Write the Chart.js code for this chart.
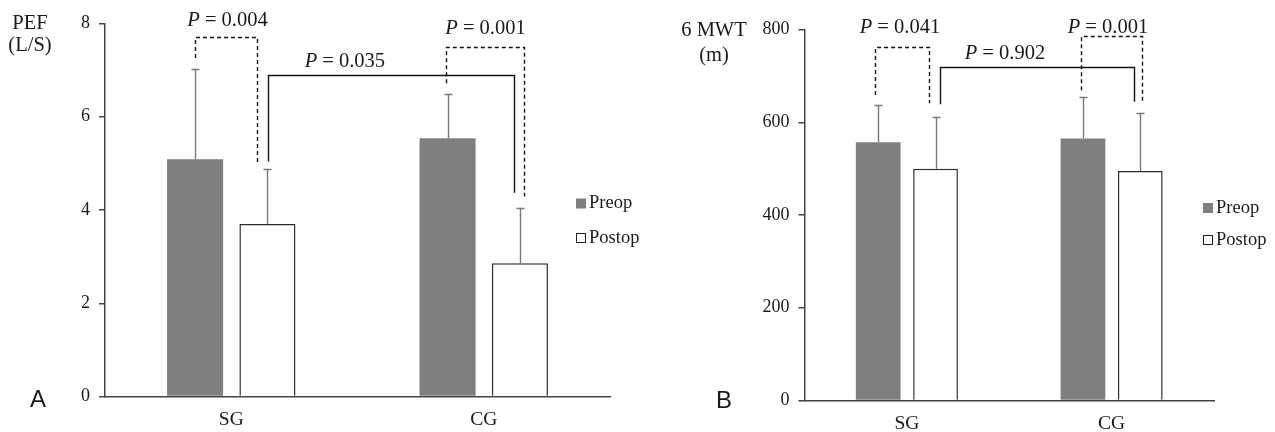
<!DOCTYPE html>
<html>
<head>
<meta charset="utf-8">
<script src="https://cdn.jsdelivr.net/npm/chart.js@4.4.1/dist/chart.umd.min.js"></script>
<style>
  html, body { margin: 0; padding: 0; background: #fff; }
  #wrap { position: relative; width: 1275px; height: 432px; overflow: hidden; }
  canvas { position: absolute; top: 0; }
</style>
</head>
<body>
<div id="wrap">
  <canvas id="chartA" width="640" height="432" style="left:0"></canvas>
  <canvas id="chartB" width="635" height="432" style="left:640px"></canvas>
</div>
<script>
// groups on the x axis and the two series
var groups = ['SG', 'CG'];
var seriesNames = ['Preop', 'Postop'];

// panel A: PEF (L/S), mean and upper SD
var pefPreop = [5.09, 5.54];
var pefPostop = [3.70, 2.86];
var pefPreopSD = [1.93, 0.95];
var pefPostopSD = [1.18, 1.18];
var pefTicks = [0, 2, 4, 6, 8];
var pefP = ['0.004', '0.035', '0.001'];

// panel B: 6 MWT (m)
var mwtPreop = [557, 565];
var mwtPostop = [500, 495];
var mwtPreopSD = [80, 89];
var mwtPostopSD = [112, 124];
var mwtTicks = [0, 200, 400, 600, 800];
var mwtP = ['0.041', '0.902', '0.001'];

var serif = '"Liberation Serif", "Times New Roman", serif';
var axisColor = '#444';
var textColor = '#1a1a1a';

// bracket layout: legs hang from bars [dataset, index], heights in data units
var pefBrackets = [
  { a: [0, 0], b: [1, 0], ya: 7.26, yb: 5.00, top: 7.70, dash: true, dxa: 0, dxb: -10 },
  { a: [1, 0], b: [1, 1], ya: 5.04, yb: 4.37, top: 6.89, dash: false, dxa: 1, dxb: -6 },
  { a: [0, 1], b: [1, 1], ya: 6.72, yb: 4.29, top: 7.49, dash: true, dxa: -2, dxb: 4 }
];
var pefLabelPos = [{ x: -0.015, y: 8.06 }, { x: 0.45, y: 7.18 }, { x: 1.007, y: 7.90 }];

var mwtBrackets = [
  { a: [0, 0], b: [1, 0], ya: 659, yb: 641, top: 762, dash: true, dxa: -3, dxb: -7 },
  { a: [1, 0], b: [1, 1], ya: 639, yb: 644, top: 720, dash: false, dxa: 4, dxb: -6 },
  { a: [0, 1], b: [1, 1], ya: 669, yb: 641, top: 786, dash: true, dxa: -2, dxb: 2 }
];
var mwtLabelPos = [{ x: -0.034, y: 803 }, { x: 0.479, y: 749 }, { x: 0.982, y: 804 }];

// draws error bars, brackets, p values, legend, axis title and panel letter
var decor = {
  id: 'decor',
  afterDatasetsDraw: function (chart, args, opts) {
    var ctx = chart.ctx;
    var xs = chart.scales.x, ys = chart.scales.y;
    ctx.save();

    // upper error bars
    ctx.strokeStyle = '#7a7a7a';
    ctx.lineWidth = 1.4;
    opts.sd.forEach(function (sds, d) {
      var meta = chart.getDatasetMeta(d);
      meta.data.forEach(function (bar, i) {
        var v = chart.data.datasets[d].data[i];
        var yTop = Math.round(ys.getPixelForValue(v + sds[i])) + 0.5;
        var x = Math.round(bar.x) + 0.5;
        ctx.beginPath();
        ctx.moveTo(x, bar.y);
        ctx.lineTo(x, yTop);
        ctx.moveTo(x - 4, yTop);
        ctx.lineTo(x + 4, yTop);
        ctx.stroke();
      });
    });

    // brackets
    ctx.strokeStyle = '#111';
    ctx.lineWidth = 1.4;
    opts.brackets.forEach(function (br) {
      var barA = chart.getDatasetMeta(br.a[0]).data[br.a[1]];
      var barB = chart.getDatasetMeta(br.b[0]).data[br.b[1]];
      var xa = Math.round(barA.x + br.dxa) + 0.5;
      var xb = Math.round(barB.x + br.dxb) + 0.5;
      var yt = Math.round(ys.getPixelForValue(br.top)) + 0.5;
      ctx.setLineDash(br.dash ? [4, 3] : []);
      ctx.beginPath();
      ctx.moveTo(xa, ys.getPixelForValue(br.ya));
      ctx.lineTo(xa, yt);
      ctx.lineTo(xb, yt);
      ctx.lineTo(xb, ys.getPixelForValue(br.yb));
      ctx.stroke();
    });
    ctx.setLineDash([]);

    // p values, italic P
    ctx.fillStyle = textColor;
    ctx.textBaseline = 'middle';
    ctx.textAlign = 'left';
    var pf = '20.5px ' + serif;
    opts.pvalues.forEach(function (p, k) {
      var pos = opts.labelPos[k];
      var cx = xs.getPixelForValue(pos.x);
      var cy = ys.getPixelForValue(pos.y);
      ctx.font = 'italic ' + pf;
      var w1 = ctx.measureText('P').width;
      ctx.font = pf;
      var rest = ' = ' + p;
      var w2 = ctx.measureText(rest).width;
      var x0 = cx - (w1 + w2) / 2;
      ctx.font = 'italic ' + pf;
      ctx.fillText('P', x0, cy);
      ctx.font = pf;
      ctx.fillText(rest, x0 + w1, cy);
    });

    // legend
    var lg = opts.legend;
    chart.data.datasets.forEach(function (ds, d) {
      var cy = lg.y[d];
      if (d === 0) {
        ctx.fillStyle = ds.backgroundColor;
        ctx.fillRect(lg.x, cy - 5, 10, 10);
      } else {
        ctx.strokeStyle = '#222';
        ctx.lineWidth = 1;
        ctx.strokeRect(lg.x + 0.5, cy - 4.5, 9, 9);
      }
      ctx.fillStyle = textColor;
      ctx.font = '18.5px ' + serif;
      ctx.textAlign = 'left';
      ctx.fillText(ds.label, lg.x + 13, cy);
    });

    // axis title
    ctx.textAlign = 'center';
    ctx.font = '20.5px ' + serif;
    opts.title.lines.forEach(function (t, k) {
      ctx.fillText(t, opts.title.x, opts.title.y[k]);
    });

    // panel letter
    ctx.font = '24px "Liberation Sans", Arial, sans-serif';
    ctx.fillText(opts.letter.text, opts.letter.x, opts.letter.y);
    ctx.restore();
  }
};

function makeChart(id, preop, postop, sd, ticks, maxV, cfg) {
  var ctx = document.getElementById(id).getContext('2d');
  return new Chart(ctx, {
    type: 'bar',
    data: {
      labels: groups,
      datasets: [{
        label: seriesNames[0],
        data: preop,
        backgroundColor: '#7f7f7f',
        borderWidth: 0,
        categoryPercentage: cfg.catPct,
        barPercentage: cfg.barPct
      }, {
        label: seriesNames[1],
        data: postop,
        backgroundColor: '#ffffff',
        borderColor: '#2b2b2b',
        borderWidth: 1.5,
        borderSkipped: 'bottom',
        categoryPercentage: cfg.catPct,
        barPercentage: cfg.barPct
      }]
    },
    options: {
      responsive: false,
      animation: false,
      layout: { padding: cfg.padding },
      plugins: {
        legend: { display: false },
        tooltip: { enabled: false },
        decor: {
          sd: sd,
          brackets: cfg.brackets,
          pvalues: cfg.pvalues,
          labelPos: cfg.labelPos,
          legend: cfg.legend,
          title: cfg.title,
          letter: cfg.letter
        }
      },
      scales: {
        x: {
          grid: { display: true, drawOnChartArea: false, drawTicks: false },
          border: { display: true, color: axisColor, width: 1.5 },
          ticks: { font: { family: serif, size: 19.5 }, color: textColor, padding: 12 },
          afterFit: function (s) { s.height = cfg.xHeight; }
        },
        y: {
          min: 0,
          max: maxV,
          afterBuildTicks: function (s) { s.ticks = ticks.map(function (v) { return { value: v }; }); },
          grid: { drawOnChartArea: false, drawTicks: true, tickLength: 6, color: axisColor, lineWidth: 1.5 },
          border: { display: true, color: axisColor, width: 1.5 },
          ticks: { font: { family: serif, size: 18 }, color: textColor, padding: 9 },
          afterFit: function (s) { s.width = cfg.yWidth; }
        }
      }
    },
    plugins: [decor]
  });
}

makeChart('chartA', pefPreop, pefPostop, [pefPreopSD, pefPostopSD], pefTicks, 8, {
  catPct: 0.573, barPct: 0.775,
  padding: { left: 0, right: 30, top: 23.5, bottom: 0 },
  yWidth: 105, xHeight: 35.5,
  brackets: pefBrackets, pvalues: pefP, labelPos: pefLabelPos,
  legend: { x: 576, y: [203.5, 238] },
  title: { lines: ['PEF', '(L/S)'], x: 30, y: [24, 46] },
  letter: { text: 'A', x: 38, y: 400 }
});

makeChart('chartB', mwtPreop, mwtPostop, [mwtPreopSD, mwtPostopSD], mwtTicks, 800, {
  catPct: 0.56, barPct: 0.78,
  padding: { left: 0, right: 61, top: 29.5, bottom: 0 },
  yWidth: 164.5, xHeight: 31.5,
  brackets: mwtBrackets, pvalues: mwtP, labelPos: mwtLabelPos,
  legend: { x: 563, y: [208, 240] },
  title: { lines: ['6 MWT', '(m)'], x: 74, y: [31, 56] },
  letter: { text: 'B', x: 84, y: 401 }
});
</script>
</body>
</html>
